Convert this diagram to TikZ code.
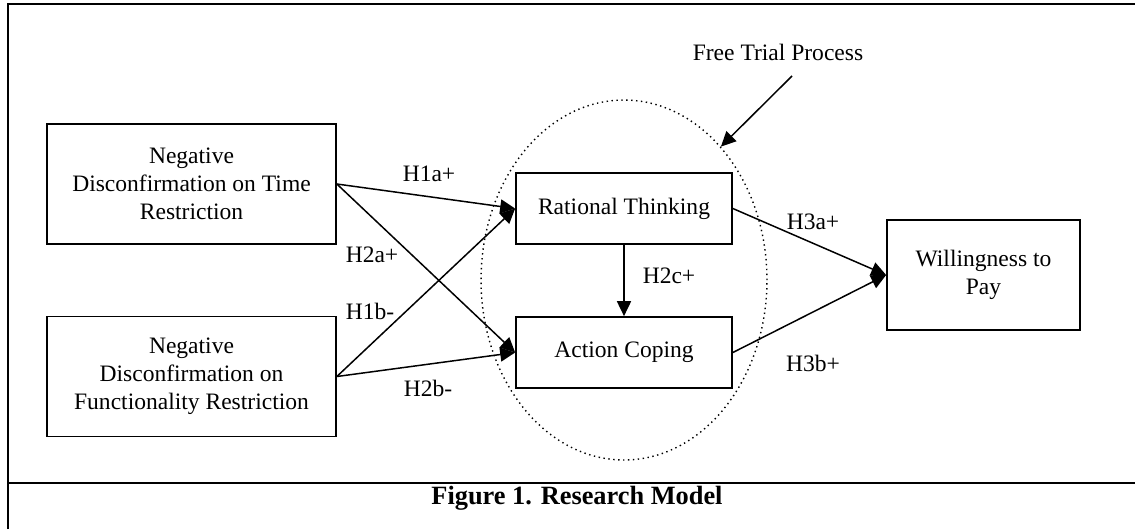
\documentclass[tikz,border=0pt]{standalone}
\usepackage{fontspec}
\setmainfont{Liberation Serif}
\usetikzlibrary{arrows.meta,shapes.geometric}

\begin{document}
\begin{tikzpicture}[x=0.02cm,y=-0.02cm,
    construct/.style={draw,line width=1pt,align=center,inner sep=0pt,
      font=\fontsize{13.4}{15.9}\selectfont},
    hyp/.style={font=\fontsize{13.4}{15.9}\selectfont,inner sep=0pt},
    link/.style={line width=0.85pt,-{Triangle[length=8.5pt,width=8pt]}}]
    \useasboundingbox (0,0) rectangle (1135,529);

    % Frame
    \draw[line width=1.6pt] (8,529) -- (8,4) -- (1135,4);
    \draw[line width=1.6pt] (8,483) -- (1135,483);
    \node[font=\fontsize{15}{18}\selectfont\bfseries] (caption) at (577,498) {Figure 1. Research Model};

    % Free trial process
    \node[draw,ellipse,dotted,line width=0.8pt,minimum width=5.72cm,minimum height=7.2cm] (trial) at (624,280) {};
    \node[hyp] (ftp) at (778,52) {Free Trial Process};
    \coordinate (ftptail) at (792,76);
    \draw[link] (ftptail) -- (trial.54);

    % Boxes
    \node[construct,minimum width=5.78cm,minimum height=2.4cm] (ndt) at (191.5,184) {Negative\\Disconfirmation on Time\\Restriction};
    \node[construct,minimum width=5.78cm,minimum height=2.4cm] (ndf) at (191.5,376.5) {Negative\\Disconfirmation on\\Functionality Restriction};
    \node[construct,minimum width=4.32cm,minimum height=1.42cm] (rt) at (624,208.5) {Rational Thinking};
    \node[construct,minimum width=4.32cm,minimum height=1.42cm] (ac) at (624,352.5) {Action Coping};
    \node[construct,minimum width=3.86cm,minimum height=2.2cm] (wtp) at (983.5,275) {Willingness to\\Pay};

    % Arrows
    \draw[link] (ndt.east) -- (rt.west);
    \draw[link] (ndt.east) -- (ac.west);
    \draw[link] (ndf.east) -- (rt.west);
    \draw[link] (ndf.east) -- (ac.west);
    \draw[link] (rt.south) -- (ac.north);
    \draw[link] (rt.east) -- (wtp.west);
    \draw[link] (ac.east) -- (wtp.west);

    % Hypotheses
    \node[hyp] (h1a) at (429,174) {H1a+};
    \node[hyp] (h2a) at (372,255) {H2a+};
    \node[hyp] (h1b) at (370,311) {H1b-};
    \node[hyp] (h2b) at (428,388) {H2b-};
    \node[hyp] (h2c) at (669,276) {H2c+};
    \node[hyp] (h3a) at (813,222) {H3a+};
    \node[hyp] (h3b) at (813,363) {H3b+};
\end{tikzpicture}
\end{document}
